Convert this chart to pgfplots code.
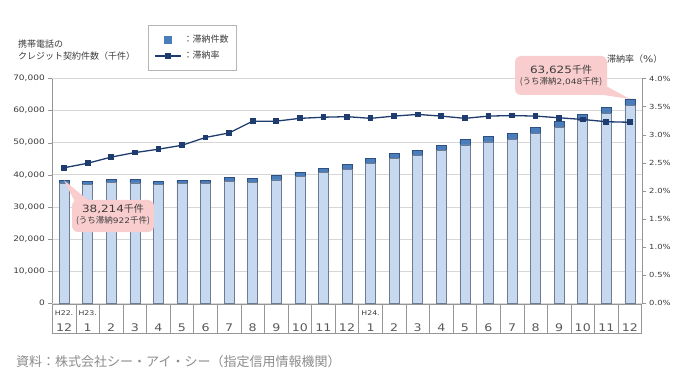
\documentclass[border=0pt]{standalone}
\usepackage{fontspec}
\setmainfont{Noto Sans CJK JP}
\newfontfamily\numfont[FakeStretch=1.2]{DejaVu Sans}
\usepackage{pgfplots}
\usepackage{pgfplotstable}
\pgfplotsset{compat=1.18}

\definecolor{lightbar}{RGB}{198,217,240}
\definecolor{lightedge}{RGB}{110,124,145}
\definecolor{darkbar}{RGB}{74,125,186}
\definecolor{darkedge}{RGB}{46,80,128}
\definecolor{navy}{RGB}{31,60,110}
\definecolor{pinkbox}{RGB}{249,205,205}
\definecolor{gridc}{RGB}{215,215,215}
\definecolor{axc}{RGB}{150,150,150}
\definecolor{txt}{RGB}{60,60,60}
\definecolor{srcc}{RGB}{140,140,140}

\pgfplotstableread{
x normal delinq rate
0 37292 922 2.41
1 37054 946 2.49
2 37499 1001 2.60
3 37420 1030 2.68
4 36910 1040 2.74
5 37224 1076 2.81
6 37170 1130 2.95
7 38012 1188 3.03
8 37640 1260 3.24
9 38414 1286 3.24
10 39361 1339 3.29
11 40610 1390 3.31
12 41766 1434 3.32
13 43616 1484 3.29
14 45000 1550 3.33
15 45904 1596 3.36
16 47513 1637 3.33
17 49274 1676 3.29
18 50220 1730 3.33
19 51036 1764 3.34
20 52830 1820 3.33
21 54684 1866 3.30
22 56974 1926 3.27
23 59126 1974 3.23
24 61577 2048 3.22
}\data

\begin{document}
\begin{tikzpicture}
\path[use as bounding box] (0,0) rectangle (693pt,386pt);
\begin{axis}[
  at={(52.3pt,83pt)}, anchor=south west,
  scale only axis, width=589.4pt, height=224.5pt,
  ybar stacked, bar width=10pt,
  xmin=-0.5, xmax=24.5, ymin=0, ymax=70000,
  axis x line*=bottom, axis y line*=left,
  axis line style={color=axc},
  x axis line style={draw=none},
  clip=false,
  xtick={0,...,24},
  xticklabels={12,1,2,3,4,5,6,7,8,9,10,11,12,1,2,3,4,5,6,7,8,9,10,11,12},
  xtick style={draw=none},
  xticklabel style={anchor=base, yshift=-24.5pt, font=\numfont\fontsize{10.5}{12}\selectfont, text=txt!85},
  ytick={0,10000,20000,30000,40000,50000,60000,70000},
  ymajorgrids, grid style={color=gridc, line width=0.5pt},
  yticklabel style={font=\numfont\fontsize{7.5}{8}\selectfont, text=txt},
  ytick style={color=axc}, tick align=outside, major tick length=4pt,
  scaled y ticks=false,
  /pgf/number format/1000 sep={,},
  /pgf/number format/assume math mode=true,
]
\addplot[fill=lightbar, draw=lightedge, line width=0.6pt] table[x=x,y=normal]{\data};
\addplot[fill=darkbar, draw=darkedge, line width=0.6pt] table[x=x,y=delinq]{\data};
\draw[axc, line width=0.6pt] ([yshift=-1.5pt]axis cs:-0.5,0) rectangle ([yshift=-30pt]axis cs:24.5,0);
\pgfplotsinvokeforeach{0.5,1.5,...,23.5}{\draw[axc,line width=0.6pt] ([yshift=-1.5pt]axis cs:#1,0) -- ([yshift=-30pt]axis cs:#1,0);}
\node[font=\numfont\fontsize{6.5}{7}\selectfont, anchor=base, text=txt, inner sep=0pt] at ([yshift=-12pt]axis cs:0,0) {H22.};
\node[font=\numfont\fontsize{6.5}{7}\selectfont, anchor=base, text=txt, inner sep=0pt] at ([yshift=-12pt]axis cs:1,0) {H23.};
\node[font=\numfont\fontsize{6.5}{7}\selectfont, anchor=base, text=txt, inner sep=0pt] at ([yshift=-12pt]axis cs:13,0) {H24.};
\coordinate (p1) at (axis cs:0,38214);
\coordinate (p2) at (axis cs:24,63625);
\end{axis}
\begin{axis}[
  at={(52.3pt,83pt)}, anchor=south west,
  scale only axis, width=589.4pt, height=224.5pt,
  xmin=-0.5, xmax=24.5, ymin=0, ymax=4,
  axis x line=none, axis y line*=right, xtick=\empty,
  axis line style={color=axc},
  ytick={0,0.5,1,1.5,2,2.5,3,3.5,4},
  yticklabel={\pgfmathprintnumber[fixed,fixed zerofill,precision=1]{\tick}\%},
  yticklabel style={font=\numfont\fontsize{7}{8}\selectfont, text=txt},
  ytick style={color=axc}, tick align=outside, major tick length=4pt,
  /pgf/number format/assume math mode=true,
  legend style={at={(0.1624,1.238)}, anchor=north west, draw=axc!70, fill=white,
    font=\fontsize{9}{10}\selectfont, text=txt, inner xsep=6pt, inner ysep=8pt, row sep=3pt,
    cells={anchor=west}},
  legend image code/.code={\draw[mark repeat=2,mark phase=2,#1] plot coordinates {(0pt,0pt) (13pt,0pt) (26pt,0pt)};},
]
\addlegendimage{only marks, mark=square*, mark size=3.5pt, mark options={fill=darkbar, draw=darkbar}}
\addlegendentry{：滞納件数}
\addplot[color=navy, line width=1.3pt, mark=square*, mark size=2.2pt, mark options={solid}] table[x=x,y=rate]{\data};
\addlegendentry{：滞納率}
\end{axis}
% callouts
\fill[pinkbox] (75pt,184pt) -- (p1) -- (88pt,186pt) -- cycle;
\fill[pinkbox, rounded corners=6pt] (72pt,154pt) rectangle (154pt,186pt);
\node[text=txt, font=\fontsize{10}{11}\selectfont, inner sep=0pt] at (113pt,177pt) {{\numfont 38,214}千件};
\node[text=txt, font=\fontsize{8.5}{9}\selectfont, inner sep=0pt] at (113pt,165pt) {(うち滞納{\numfont\fontsize{7.5}{8}\selectfont 922}千件)};
\fill[pinkbox] (590pt,293pt) -- (p2) -- (606pt,300pt) -- cycle;
\fill[pinkbox, rounded corners=6pt] (515pt,291pt) rectangle (607pt,330pt);
\node[text=txt, font=\fontsize{10}{11}\selectfont, inner sep=0pt] at (561pt,316pt) {{\numfont 63,625}千件};
\node[text=txt, font=\fontsize{8.5}{9}\selectfont, inner sep=0pt] at (561pt,304pt) {(うち滞納{\numfont\fontsize{7.5}{8}\selectfont 2,048}千件)};
% titles
\node[anchor=west, font=\fontsize{9}{10}\selectfont, text=txt, inner sep=0pt] at (18pt,342pt) {携帯電話の};
\node[anchor=west, font=\fontsize{9}{10}\selectfont, text=txt, inner sep=0pt] at (18pt,330pt) {クレジット契約件数（千件）};
\node[anchor=west, font=\fontsize{9}{10}\selectfont, text=txt, inner sep=0pt] at (607pt,327pt) {滞納率（{\numfont\%}）};
\node[anchor=west, font=\fontsize{13}{14}\selectfont, text=srcc, inner sep=0pt] at (16pt,24pt) {資料：株式会社シー・アイ・シー（指定信用情報機関）};
\end{tikzpicture}
\end{document}
